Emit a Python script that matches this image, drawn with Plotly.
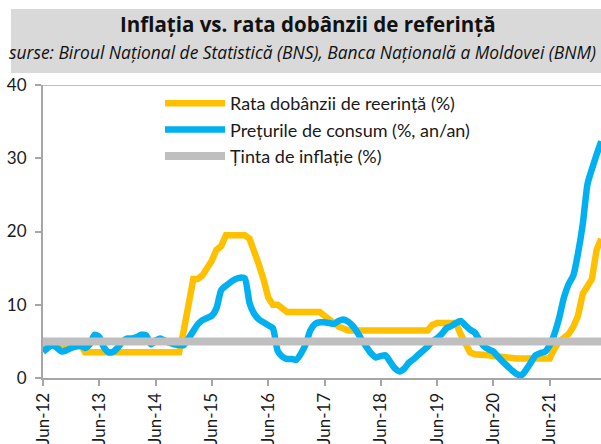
import plotly.graph_objects as go
import pandas as pd

# ---- data (monthly, from Jun-2012) ----
start_month = "2012-06-01"
policy_rate = [
    4.5, 4.5, 4.5, 4.5, 4.5, 4.5, 4.5, 4.5, 4.5, 3.5,          # Jun12-Mar13
    3.5, 3.5, 3.5, 3.5, 3.5, 3.5, 3.5, 3.5, 3.5, 3.5,          # Apr13-Jan14
    3.5, 3.5, 3.5, 3.5, 3.5, 3.5, 3.5, 3.5, 3.5, 3.5,          # Feb14-Nov14
    6.5, 9.5, 13.5, 13.5, 14.0, 15.0, 16.0, 17.5, 18.0, 19.5,  # Dec14-Sep15
    19.5, 19.5, 19.5, 19.5, 19.0, 17.5, 15.5, 13.5, 11.0, 10.0,  # Oct15-Jul16
    10.0, 9.5, 9.0, 9.0, 9.0, 9.0, 9.0, 9.0, 9.0, 9.0,         # Aug16-May17
    8.5, 8.0, 7.5, 7.0, 6.75, 6.5, 6.5, 6.5, 6.5, 6.5,         # Jun17-Mar18
    6.5, 6.5, 6.5, 6.5, 6.5, 6.5, 6.5, 6.5, 6.5, 6.5,          # Apr18-Jan19
    6.5, 6.5, 6.5, 7.25, 7.5, 7.5, 7.5, 7.5, 7.5, 6.0,         # Feb19-Nov19
    4.5, 3.5, 3.25, 3.25, 3.25, 3.1, 3.0, 2.9, 2.75, 2.65,     # Dec19-Sep20
    2.65, 2.65, 2.65, 2.65, 2.65, 2.65, 2.65, 2.65, 2.65, 4.0, # Oct20-Jul21
    5.0, 5.5, 6.0, 7.0, 8.5, 11.5, 12.5, 13.5, 17.5, 19.0,     # Aug21-May22
]
cpi = [
    3.6, 4.1, 4.5, 4.1, 3.6, 3.8, 4.1, 4.3, 4.4, 4.1,
    4.6, 5.9, 5.6, 4.2, 3.5, 3.6, 4.2, 5.0, 5.4, 5.4,
    5.6, 5.9, 5.8, 4.6, 5.1, 5.4, 5.1, 4.8, 4.6, 4.5,
    4.5, 5.4, 6.4, 7.3, 7.9, 8.2, 8.5, 9.5, 12.0, 12.6,
    13.1, 13.5, 13.7, 13.6, 10.2, 8.8, 8.0, 7.6, 7.2, 6.8,
    3.7, 2.9, 2.6, 2.6, 2.5, 3.4, 4.7, 6.5, 7.4, 7.6,
    7.6, 7.5, 7.4, 7.8, 8.0, 7.7, 7.1, 6.2, 5.1, 4.2,
    3.3, 2.8, 3.0, 3.1, 2.2, 1.3, 0.9, 1.3, 2.1, 2.6,
    3.2, 3.7, 4.3, 5.0, 5.4, 6.0, 6.8, 7.1, 7.5, 7.8,
    7.2, 6.6, 6.2, 5.2, 4.3, 3.9, 3.6, 2.9, 2.2, 1.6,
    1.0, 0.5, 0.4, 1.2, 2.2, 3.1, 3.4, 3.6, 4.5, 6.0,
    8.2, 11.0, 12.8, 14.0, 17.0, 21.0, 26.5, 28.5, 30.5, 32.3,
]
target = [5.0] * len(cpi)
y_ticks = [0, 10, 20, 30, 40]

names = ["Rata dobânzii de reerință (%)", "Prețurile de consum (%, an/an)", "Ținta de inflație (%)"]
title_text = "Inflația vs. rata dobânzii de referință"
subtitle_text = "surse: Biroul Național de Statistică (BNS), Banca Națională a Moldovei (BNM)"

dates = pd.date_range(start_month, periods=len(cpi), freq="MS")

W, H = 601, 444
PLOT_L, PLOT_R, PLOT_T, PLOT_B = 43, 601, 85, 378   # page pixels
ml, mr, mt, mb = PLOT_L, W - PLOT_R, PLOT_T, H - PLOT_B
pw, ph = PLOT_R - PLOT_L, PLOT_B - PLOT_T

def px_x(p):
    return (p - PLOT_L) / pw

def px_y(p):
    return (PLOT_B - p) / ph

fig = go.Figure()
fig.add_trace(go.Scatter(x=dates, y=policy_rate, name=names[0], mode="lines",
                         line=dict(color="#FFC000", width=6.5)))
fig.add_trace(go.Scatter(x=dates, y=cpi, name=names[1], mode="lines",
                         line=dict(color="#00B0F0", width=6.5, shape="spline", smoothing=0.6)))
fig.add_trace(go.Scatter(x=dates, y=target, name=names[2], mode="lines",
                         line=dict(color="#BFBFBF", width=8)))

font_ticks = "Lato, 'Open Sans', sans-serif"

fig.update_layout(
    width=W, height=H,
    margin=dict(l=ml, r=mr, t=mt, b=mb),
    paper_bgcolor="white", plot_bgcolor="white",
    font=dict(family=font_ticks, size=17, color="#1a1a1a"),
    showlegend=True,
    legend=dict(x=px_x(160), y=px_y(85), xanchor="left", yanchor="top",
                bgcolor="rgba(0,0,0,0)", itemwidth=60,
                font=dict(family=font_ticks, size=18, color="#1a1a1a"),
                traceorder="normal"),
    xaxis=dict(
        type="date",
        range=[pd.Timestamp("2012-06-01"), pd.Timestamp("2012-06-01") + pd.Timedelta(days=118.9 * 30.44)],
        tick0="2012-06-01", dtick="M12", tickformat="%b-%y", tickangle=-90,
        showgrid=False, zeroline=False,
        showline=True, linecolor="#A6A6A6", linewidth=2,
        ticks="outside", ticklen=6, tickcolor="#A6A6A6", tickwidth=2,
        tickfont=dict(family=font_ticks, size=17, color="#1a1a1a"),
        automargin=False,
    ),
    yaxis=dict(
        range=[0, 40], tickvals=y_ticks,
        showgrid=False, zeroline=False,
        showline=True, linecolor="#A6A6A6", linewidth=2,
        ticks="outside", ticklen=6, tickcolor="#A6A6A6", tickwidth=2,
        ticklabelstandoff=5,
        tickfont=dict(family=font_ticks, size=17, color="#1a1a1a"),
        automargin=False,
    ),
    shapes=[
        dict(type="rect", xref="paper", yref="paper",
             x0=px_x(11), x1=1.0, y0=px_y(73), y1=px_y(9),
             fillcolor="#D9D9D9", line=dict(width=0), layer="below"),
        dict(type="line", xref="paper", yref="y", x0=0, x1=1, y0=40, y1=40,
             line=dict(color="#BFBFBF", width=2)),
    ],
    annotations=[
        dict(text="<b>" + title_text + "</b>", xref="paper", yref="paper",
             x=px_x(308), y=px_y(24), xanchor="center", yanchor="middle",
             showarrow=False, font=dict(family="'Open Sans', sans-serif", size=20.5, color="#111111")),
        dict(text="<i>" + subtitle_text + "</i>", xref="paper", yref="paper",
             x=px_x(302), y=px_y(52), xanchor="center", yanchor="middle",
             showarrow=False, font=dict(family="'Open Sans', sans-serif", size=17.4, color="#111111")),
    ],
)

fig.write_html(
    "out.html",
    config={"displayModeBar": False},
    post_script="document.body.style.margin='0px';document.body.style.overflow='hidden';",
)
